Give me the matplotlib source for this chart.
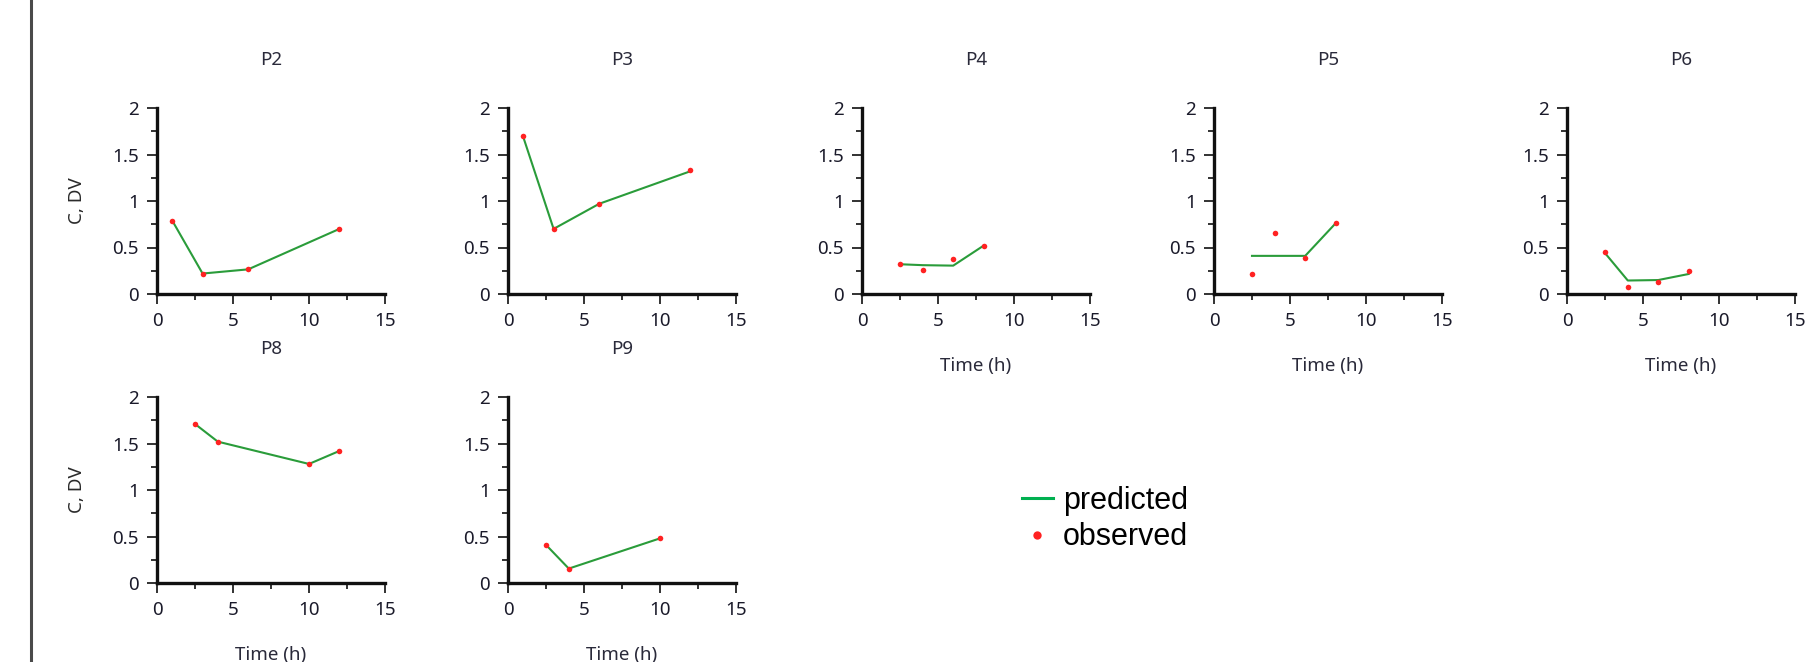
import matplotlib
matplotlib.use('Agg')
import matplotlib.pyplot as plt
from matplotlib.lines import Line2D
from matplotlib.ticker import MultipleLocator

# data
names = ['P2', 'P3', 'P4', 'P5', 'P6', 'P8', 'P9']
times = [
    [1, 3, 6, 12],
    [1, 3, 6, 12],
    [2.5, 4, 6, 8],
    [2.5, 4, 6, 8],
    [2.5, 4, 6, 8],
    [2.5, 4, 10, 12],
    [2.5, 4, 10],
]
observed = [
    [0.79, 0.21, 0.27, 0.70],
    [1.70, 0.70, 0.97, 1.33],
    [0.32, 0.26, 0.38, 0.52],
    [0.22, 0.66, 0.39, 0.76],
    [0.45, 0.08, 0.13, 0.25],
    [1.71, 1.52, 1.28, 1.42],
    [0.41, 0.15, 0.48],
]
predicted = [
    [0.79, 0.22, 0.265, 0.70],
    [1.69, 0.70, 0.97, 1.32],
    [0.32, 0.31, 0.305, 0.52],
    [0.41, 0.41, 0.41, 0.76],
    [0.44, 0.145, 0.15, 0.215],
    [1.71, 1.52, 1.28, 1.42],
    [0.41, 0.155, 0.48],
]
x_ticks = [0, 5, 10, 15]
y_ticks = [0, 0.5, 1, 1.5, 2]
y_ticklabels = ['0', '0.5', '1', '1.5', '2']

W, H = 1818, 662
col_left = [157, 508, 862, 1214, 1567]
row_top = [108, 397]
ax_w, ax_h = 228, 186

tick_font = 'Noto Sans'
line_green = '#2a9c3a'
dot_red = '#ff2222'

fig = plt.figure(figsize=(W / 100, H / 100), dpi=100)
fig.patch.set_facecolor('white')

# dark frame line on the left edge
fig.add_artist(Line2D([31 / W, 31 / W], [0, 1], color='#4a4a4a', lw=2.2))

for i, name in enumerate(names):
    r, c = divmod(i, 5)
    left = col_left[c] / W
    bottom = 1 - (row_top[r] + ax_h) / H
    ax = fig.add_axes([left, bottom, ax_w / W, ax_h / H])

    ax.plot(times[i], predicted[i], color=line_green, lw=1.5, zorder=2)
    ax.plot(times[i], observed[i], 'o', color=dot_red, ms=4, mew=0, zorder=3)

    ax.set_xlim(0, 15)
    ax.set_ylim(0, 2)
    ax.set_xticks(x_ticks)
    ax.set_yticks(y_ticks)
    ax.set_yticklabels(y_ticklabels)
    ax.xaxis.set_minor_locator(MultipleLocator(2.5))
    ax.yaxis.set_minor_locator(MultipleLocator(0.25))

    for s in ['top', 'right']:
        ax.spines[s].set_visible(False)
    for s in ['left', 'bottom']:
        ax.spines[s].set_linewidth(2.4)
        ax.spines[s].set_color('#111111')
    ax.tick_params(which='major', direction='out', length=7, width=1.3,
                   color='#222222', labelsize=13.5, pad=6)
    ax.tick_params(which='minor', direction='out', length=4, width=1.3,
                   color='#222222')
    for lab in ax.get_xticklabels() + ax.get_yticklabels():
        lab.set_family(tick_font)
        lab.set_color('#1a1a2a')

    ax.set_title(name, fontsize=13.5, family=tick_font, color='#2a2a3a', pad=31)

    if c == 0:
        ax.set_ylabel('C, DV', fontsize=13.5, family=tick_font, color='#2a2a2a')
        ax.yaxis.set_label_coords(-0.31, 0.5)
    # x label on the bottom-most plot of every column
    if r == 1 or c >= 2:
        ax.set_xlabel('Time (h)', fontsize=13.5, family=tick_font, color='#2a2a3a')
        ax.xaxis.set_label_coords(0.5, -0.34)

handles = [
    Line2D([], [], color='#00b050', lw=2.2),
    Line2D([], [], marker='o', ls='none', color=dot_red, ms=6, mew=0),
]
fig.legend(handles, ['predicted', 'observed'], loc='center left',
           bbox_to_anchor=(1022 / W, 1 - 519 / H), frameon=False,
           prop={'family': 'Liberation Sans', 'size': 22},
           handlelength=1.0, handletextpad=0.35, labelspacing=0.22,
           borderpad=0, borderaxespad=0)

fig.savefig('out.png', dpi=100, facecolor='white')
